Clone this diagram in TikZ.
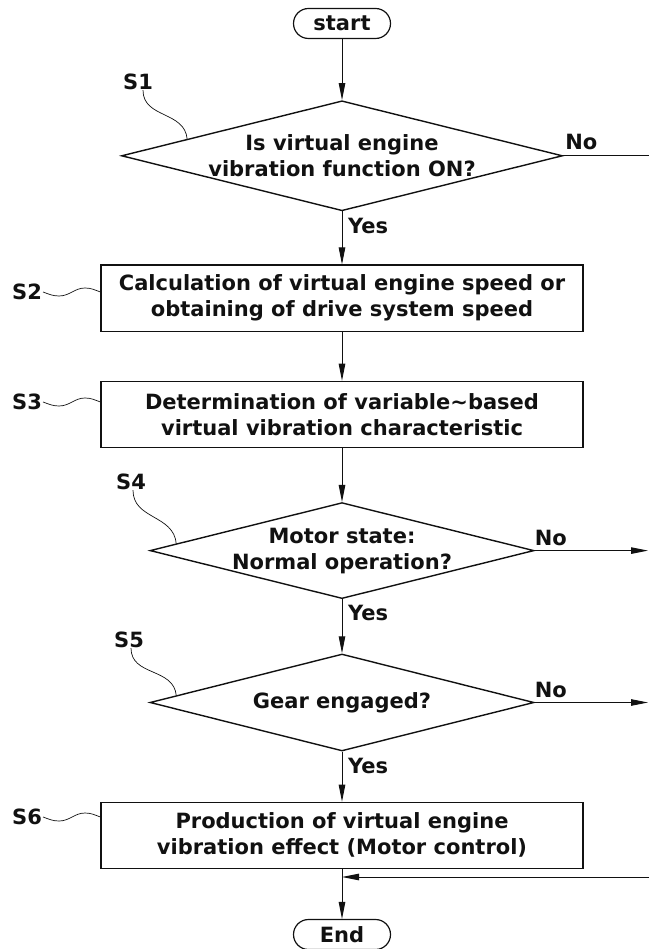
\documentclass[tikz,border=0pt]{standalone}
\usepackage{fontspec}
\setmainfont{DejaVu Sans}
\usetikzlibrary{arrows.meta, positioning, shapes.geometric, calc}
\usepackage{xcolor}
\definecolor{ink}{HTML}{111111}
\tikzset{
  n/.style={draw=ink, line width=1.2pt, align=center, font=\fontsize{21}{26}\selectfont\bfseries, text=ink, inner sep=0pt},
  nb/.style={n, rectangle, minimum width=482pt, minimum height=66pt},
  nd/.style={n, diamond, aspect=4, inner sep=-6pt, line width=1.4pt},
  nt/.style={n, rectangle, rounded corners=15pt, minimum width=97pt, minimum height=30pt},
  a/.style={-{Triangle[length=17pt, width=6.5pt]}, draw=ink, line width=0.9pt},
  ln/.style={draw=ink, line width=0.9pt},
  lead/.style={draw=ink, line width=0.7pt},
  tag/.style={font=\fontsize{21}{26}\selectfont\bfseries, text=ink, inner sep=0pt},
}

\begin{document}
\begin{tikzpicture}[x=1pt, y=-1pt]
\useasboundingbox (0,0) rectangle (649,949);
\node[nt] (st) at (342,23.5) {start};
\node[nd, minimum width=441pt, minimum height=110pt, below=61pt of st] (d1) {Is virtual engine\\vibration function ON?};
\node[nb, below=53pt of d1] (b2) {Calculation of virtual engine speed or\\obtaining of drive system speed};
\node[nb, below=49pt of b2] (b3) {Determination of variable\textasciitilde based\\virtual vibration characteristic};
\node[nd, minimum width=384pt, minimum height=96pt, below=54pt of b3] (d4) {Motor state:\\Normal operation?};
\node[nd, minimum width=384pt, minimum height=97pt, below=54pt of d4] (d5) {Gear engaged?};
\node[nb, below=50pt of d5] (b6) {Production of virtual engine\\vibration effect (Motor control)};
\node[nt, below=50pt of b6] (en) {End};

\node[tag] (s1) at (138,82) {S1};
\node[tag] (s2) at (27,292) {S2};
\node[tag] (s3) at (27,402) {S3};
\node[tag] (s4) at (131,482) {S4};
\node[tag] (s5) at (129,640) {S5};
\node[tag] (s6) at (27,817) {S6};

\node[tag, below right=6pt and 6pt of d1.south] (y1) {Yes};
\node[tag, below right=6pt and 6pt of d4.south] (y4) {Yes};
\node[tag, below right=6pt and 6pt of d5.south] (y5) {Yes};
\node[tag, above right=6pt and 2pt of d1.east] (n1) {No};
\node[tag, above right=5pt and 0pt of d4.east] (n4) {No};
\node[tag, above right=5pt and 0pt of d5.east] (n5) {No};

\draw[a] (st) -- (d1);
\draw[a] (d1) -- (b2);
\draw[a] (b2) -- (b3);
\draw[a] (b3) -- (d4);
\draw[a] (d4) -- (d5);
\draw[a] (d5) -- (b6);
\draw[a] (b6) -- (en);

\coordinate (rim) at (648,0);
\coordinate (back) at (649,877);
\draw[ln] (d1.east) -- (d1.east -| back);
\draw[a] (d4.east) -- (d4.east -| rim);
\draw[a] (d5.east) -- (d5.east -| rim);
\draw[a] (back) -- (back -| b6.south);

\draw[lead] ([xshift=5pt]s1.south) to[out=-90, in=95, looseness=1.1] ($(d1.west)!0.3!(d1.north)$);
\draw[lead] ([xshift=2pt]s4.south) to[out=-90, in=95, looseness=1.1] ($(d4.west)!0.14!(d4.north)$);
\draw[lead] ([xshift=2pt]s5.south) to[out=-90, in=95, looseness=1.1] ($(d5.west)!0.14!(d5.north)$);
\draw[lead] ([xshift=1pt]s2.east) to[out=-20, in=180] ++(16,4) to[out=0, in=180] ++(26,-8) to[out=0, in=160] (b2.west |- s2.east);
\draw[lead] ([xshift=1pt]s3.east) to[out=-20, in=180] ++(16,4) to[out=0, in=180] ++(26,-8) to[out=0, in=160] (b3.west |- s3.east);
\draw[lead] ([xshift=1pt]s6.east) to[out=-20, in=180] ++(16,4) to[out=0, in=180] ++(26,-8) to[out=0, in=160] (b6.west |- s6.east);
\end{tikzpicture}
\end{document}
